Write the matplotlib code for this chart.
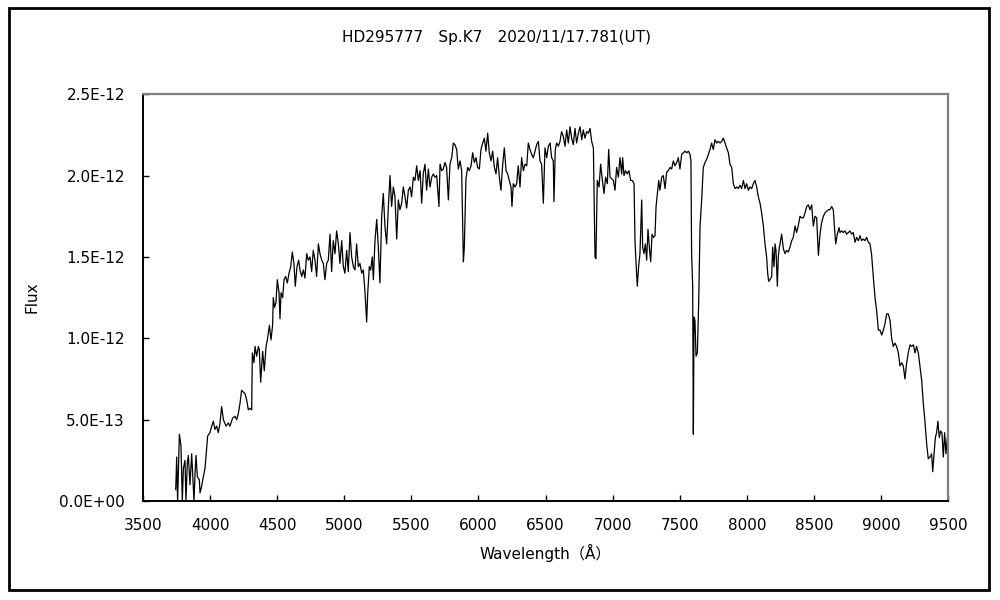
import math
import matplotlib
matplotlib.use("Agg")
import matplotlib.pyplot as plt
from matplotlib.patches import Rectangle
from matplotlib.ticker import FuncFormatter

plt.rcParams['font.family'] = ['DejaVu Sans', 'Noto Sans CJK JP']

title = "HD295777\u3000Sp.K7\u30002020/11/17.781(UT)"
xlabel = "Wavelength\uff08\u00c5\uff09"
ylabel = "Flux"
x_ticks = [3500, 4000, 4500, 5000, 5500, 6000, 6500, 7000, 7500, 8000, 8500, 9000, 9500]
y_ticks = [0.0, 0.5e-12, 1.0e-12, 1.5e-12, 2.0e-12, 2.5e-12]

# wavelength (Angstrom)
wavelength = [
    3744, 3751, 3758, 3771, 3783, 3793, 3801, 3813, 3820, 3830, 3838, 3850, 3863, 3870,
    3880, 3888, 3895, 3905, 3920, 3925, 3937, 3950, 3962, 3975, 3982, 3999, 4012, 4024,
    4036, 4049, 4061, 4074, 4086, 4099, 4119, 4136, 4148, 4168, 4186, 4198, 4211, 4223,
    4235, 4248, 4260, 4273, 4285, 4297, 4310, 4315, 4327, 4335, 4347, 4360, 4367, 4377,
    4392, 4404, 4417, 4427, 4442, 4454, 4466, 4471, 4481, 4491, 4501, 4514, 4521, 4529,
    4541, 4551, 4563, 4576, 4588, 4601, 4613, 4625, 4635, 4648, 4660, 4670, 4683, 4695,
    4707, 4720, 4732, 4745, 4757, 4769, 4782, 4794, 4807, 4819, 4832, 4844, 4856, 4869,
    4881, 4894, 4906, 4918, 4931, 4943, 4956, 4968, 4981, 4993, 5005, 5018, 5030, 5043,
    5055, 5068, 5080, 5092, 5105, 5117, 5130, 5142, 5155, 5167, 5175, 5187, 5197, 5209,
    5217, 5229, 5242, 5254, 5266, 5279, 5291, 5304, 5316, 5329, 5341, 5353, 5366, 5378,
    5391, 5403, 5415,
    5428, 5440, 5453, 5465, 5478, 5490, 5502, 5515, 5527, 5540, 5552, 5565, 5577, 5589,
    5602, 5614, 5627, 5639, 5652, 5664, 5676, 5689, 5706, 5714, 5726, 5738, 5751, 5763,
    5776, 5788, 5801, 5813, 5825, 5838, 5850, 5863, 5875, 5888, 5895, 5907, 5920, 5932,
    5945, 5957, 5970, 5982, 5994, 6007, 6019, 6032, 6044, 6056, 6069, 6081, 6094, 6106,
    6119, 6131, 6143, 6156, 6168, 6181, 6193, 6206, 6218, 6230, 6243, 6250, 6260, 6273,
    6285, 6297, 6310, 6322, 6335, 6347, 6360, 6372, 6384, 6397, 6409, 6422, 6434, 6447,
    6459, 6471, 6484, 6496, 6509, 6521, 6534, 6546, 6558, 6563, 6573, 6583, 6596, 6608,
    6620, 6633, 6645, 6658, 6670, 6683, 6695, 6707, 6720, 6732, 6745, 6757, 6770, 6782,
    6794, 6807, 6819, 6832, 6844, 6857, 6869, 6876, 6886, 6899, 6911, 6924, 6936, 6948,
    6961, 6971, 6981, 6993, 7006, 7018, 7030, 7043, 7055, 7068, 7075, 7085, 7097, 7110,
    7122, 7135, 7147, 7160, 7167, 7175, 7184, 7194, 7204, 7217, 7224, 7234, 7244, 7254,
    7264, 7274, 7284, 7294, 7304, 7316, 7324, 7334, 7344, 7353, 7366, 7378, 7391, 7403,
    7415, 7428, 7440, 7453, 7465, 7478, 7490, 7502,
    7515, 7527, 7540, 7552, 7565, 7577, 7584, 7589, 7597, 7602, 7607, 7614, 7622, 7632,
    7642, 7652, 7664, 7676, 7689, 7701, 7714, 7726, 7738, 7751, 7763, 7776, 7788, 7801,
    7813, 7825, 7838, 7850, 7863, 7875, 7888, 7900, 7912, 7925, 7937, 7950, 7962, 7975,
    7987, 7999, 8012, 8024, 8037, 8049, 8061, 8074, 8086, 8099, 8111, 8124, 8136, 8148,
    8156, 8163, 8173, 8186, 8193, 8203, 8211, 8218, 8228, 8235, 8243,
    8248, 8260, 8273, 8285, 8297, 8310, 8322, 8335, 8347, 8360, 8372, 8384, 8397, 8409,
    8422, 8434, 8447, 8459, 8471, 8484, 8496, 8509, 8521, 8534, 8546, 8558, 8571, 8583,
    8596, 8608, 8620, 8633, 8645, 8653, 8663, 8675, 8688, 8695, 8707, 8720, 8732, 8745,
    8757, 8769, 8782, 8794, 8807, 8819, 8832, 8844, 8856, 8869, 8881, 8894, 8906, 8919,
    8931, 8943, 8956, 8968, 8981, 8993, 9006, 9018, 9030, 9043, 9055, 9068, 9080, 9092,
    9105, 9117, 9130, 9142, 9155, 9167, 9179, 9192, 9204, 9217, 9229, 9242, 9254, 9266,
    9279, 9291, 9304, 9316, 9329, 9341, 9353, 9366, 9378, 9386, 9396, 9406, 9415, 9425,
    9435, 9445, 9455, 9465, 9475, 9485, 9495, 9505,
]

# flux in units of 1E-12
flux_e12 = [
    0.07, 0.27, 0.00, 0.41, 0.34, 0.00, 0.20, 0.25, 0.00, 0.23, 0.28, 0.10, 0.29, 0.17,
    0.00, 0.17, 0.28, 0.15, 0.13, 0.05, 0.09, 0.15, 0.20, 0.33, 0.40, 0.42, 0.46, 0.49,
    0.44, 0.46, 0.42, 0.48, 0.58, 0.50, 0.46, 0.48, 0.46, 0.51, 0.52, 0.50, 0.54, 0.60,
    0.68, 0.67, 0.66, 0.62, 0.56, 0.57, 0.56, 0.91, 0.85, 0.95, 0.89, 0.95, 0.93, 0.73,
    0.92, 0.80, 0.95, 0.99, 1.08, 0.99, 1.08, 1.25, 1.19, 1.22, 1.36, 1.28, 1.12, 1.28,
    1.25, 1.36, 1.38, 1.34, 1.40, 1.44, 1.53, 1.46, 1.32, 1.44, 1.48, 1.42, 1.38, 1.42,
    1.37, 1.52, 1.48, 1.50, 1.41, 1.54, 1.48, 1.38, 1.58, 1.52, 1.48, 1.46, 1.36, 1.46,
    1.48, 1.64, 1.41, 1.60, 1.52, 1.66, 1.58, 1.46, 1.60, 1.44, 1.40, 1.54, 1.41, 1.65,
    1.50, 1.44, 1.42, 1.58, 1.44, 1.46, 1.40, 1.42, 1.28, 1.10, 1.28, 1.44, 1.42, 1.50,
    1.36, 1.60, 1.73, 1.56, 1.34, 1.75, 1.89, 1.68, 1.58, 1.81, 2.00, 1.81, 1.93, 1.87,
    1.61, 1.85, 1.79,
    1.83, 1.93, 1.87, 1.80, 1.91, 1.93, 1.87, 1.99, 1.97, 2.06, 1.97, 2.03, 1.83, 2.01,
    2.07, 1.91, 2.04, 1.93, 1.99, 2.01, 1.99, 2.00, 1.81, 2.07, 2.03, 2.04, 2.08, 2.05,
    1.85, 2.07, 2.11, 2.20, 2.19, 2.16, 2.04, 2.09, 2.03, 1.47, 1.56, 1.98, 2.05, 2.03,
    2.06, 2.14, 2.08, 2.11, 2.05, 2.04, 2.16, 2.20, 2.23, 2.15, 2.26, 2.14, 2.09, 2.15,
    2.05, 2.01, 2.11, 1.99, 1.91, 2.07, 2.17, 2.03, 2.01, 1.97, 1.93, 1.81, 1.95, 1.93,
    1.95, 2.06, 1.93, 2.11, 2.03, 2.07, 2.06, 2.20, 2.16, 2.13, 2.11, 2.15, 2.19, 2.21,
    2.09, 2.07, 1.83, 2.17, 2.11, 2.18, 2.20, 2.11, 2.09, 1.84, 2.16, 2.20, 2.18, 2.21,
    2.27, 2.24, 2.18, 2.28, 2.20, 2.30, 2.23, 2.19, 2.29, 2.20, 2.26, 2.30, 2.22, 2.28,
    2.23, 2.27, 2.26, 2.29, 2.21, 2.17, 1.50, 1.49, 1.97, 1.93, 2.07, 1.97, 1.89, 1.99,
    1.95, 2.16, 1.99, 1.98, 1.97, 1.91, 2.05, 1.99, 2.11, 2.01, 2.11, 2.00, 2.03, 2.01,
    2.03, 1.97, 1.97, 1.95, 1.60, 1.46, 1.32, 1.44, 1.52, 1.85, 1.56, 1.52, 1.58, 1.48,
    1.67, 1.56, 1.47, 1.64, 1.62, 1.63, 1.81, 1.89, 1.97, 1.91, 1.99, 2.00, 1.92, 2.02,
    2.03, 2.05, 2.04, 2.09, 2.06, 2.08, 2.11, 2.04,
    2.13, 2.14, 2.15, 2.14, 2.15, 2.13, 2.09, 1.52, 1.32, 0.41, 1.13, 1.11, 0.89, 0.91,
    1.23, 1.69, 1.85, 2.05, 2.08, 2.10, 2.13, 2.16, 2.20, 2.16, 2.22, 2.20, 2.21, 2.20,
    2.21, 2.23, 2.20, 2.17, 2.14, 2.07, 2.05, 1.95, 1.92, 1.93, 1.92, 1.94, 1.92, 1.97,
    1.92, 1.95, 1.91, 1.93, 1.92, 1.95, 1.97, 1.93, 1.87, 1.83, 1.77, 1.69, 1.58, 1.50,
    1.40, 1.35, 1.36, 1.38, 1.56, 1.44, 1.58, 1.54, 1.32, 1.50, 1.56,
    1.58, 1.64, 1.55, 1.52, 1.54, 1.53, 1.56, 1.60, 1.62, 1.69, 1.65, 1.69, 1.75, 1.74,
    1.74, 1.77, 1.81, 1.82, 1.79, 1.82, 1.69, 1.75, 1.74, 1.51, 1.64, 1.71, 1.75, 1.77,
    1.78, 1.79, 1.79, 1.81, 1.79, 1.69, 1.58, 1.64, 1.68, 1.65, 1.66, 1.65, 1.66, 1.64,
    1.65, 1.66, 1.64, 1.65, 1.59, 1.62, 1.60, 1.63, 1.60, 1.61, 1.60, 1.62, 1.59, 1.58,
    1.51, 1.38, 1.25, 1.17, 1.05, 1.05, 1.02, 1.05, 1.09, 1.15, 1.15, 1.11, 1.00, 0.95,
    0.97, 0.95, 0.91, 0.83, 0.85, 0.83, 0.75, 0.85, 0.91, 0.96, 0.95, 0.96, 0.91, 0.95,
    0.91, 0.83, 0.74, 0.60, 0.48, 0.35, 0.26, 0.27, 0.29, 0.18, 0.29, 0.39, 0.42, 0.49,
    0.39, 0.43, 0.42, 0.27, 0.42, 0.29, 0.39, 0.29,
]

flux = [v * 1e-12 for v in flux_e12]


def excel_sci(v, pos):
    if abs(v) < 1e-20:
        return "0.0E+00"
    exp = math.floor(math.log10(abs(v)))
    mant = v / 10 ** exp
    sign = "-" if exp < 0 else "+"
    return f"{mant:.1f}E{sign}{abs(exp):02d}"


fig = plt.figure(figsize=(10, 6), dpi=100)
fig.patch.set_facecolor('white')

# outer chart border
fig.patches.append(Rectangle((0.009, 0.0167), 0.980, 0.970, transform=fig.transFigure,
                             fill=False, edgecolor='black', linewidth=2.0, zorder=10))

ax = fig.add_axes([0.143, 0.165, 0.805, 0.678])
ax.plot(wavelength, flux, color='black', linewidth=0.9)

ax.set_xlim(3500, 9500)
ax.set_ylim(0, 2.5e-12)
ax.set_xticks(x_ticks)
ax.set_yticks(y_ticks)
ax.yaxis.set_major_formatter(FuncFormatter(excel_sci))
ax.tick_params(axis='both', direction='in', length=4, width=1, color='black',
               labelsize=11, top=False, right=False)
ax.tick_params(axis='x', pad=12)
ax.tick_params(axis='y', pad=13)

for side in ['top', 'right']:
    ax.spines[side].set_color('#808080')
    ax.spines[side].set_linewidth(1.6)
for side in ['left', 'bottom']:
    ax.spines[side].set_color('black')
    ax.spines[side].set_linewidth(1.4)

ax.set_xlabel(xlabel, fontsize=11, labelpad=8)
ax.set_ylabel(ylabel, fontsize=11, labelpad=14)
fig.text(0.497, 0.938, title, ha='center', va='center', fontsize=11)

fig.savefig('out.png', dpi=100, facecolor='white')
